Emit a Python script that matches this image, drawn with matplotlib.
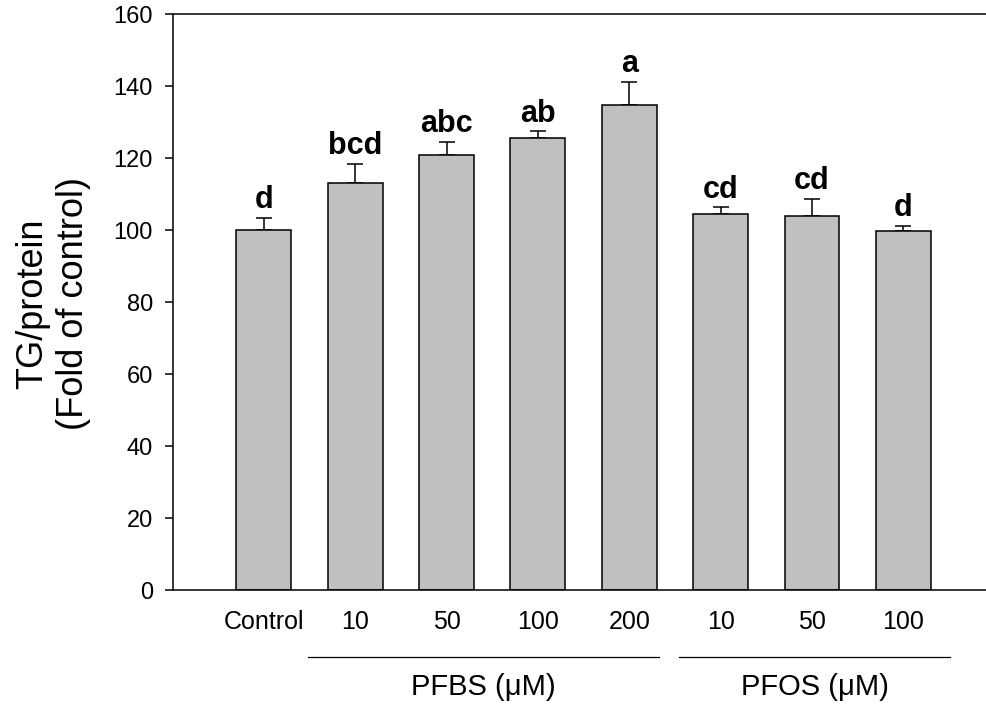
import numpy as np
from matplotlib import pyplot as plt
from matplotlib import transforms

plt.rcParams["font.family"] = ["Liberation Sans", "DejaVu Sans"]

labels = ["Control", "10", "50", "100", "200", "10", "50", "100"]
values = [100.0, 113.2, 121.1, 125.6, 134.9, 104.5, 103.9, 99.9]
errors = [3.6, 5.4, 3.6, 1.9, 6.3, 1.9, 4.8, 1.3]
letters = ["d", "bcd", "abc", "ab", "a", "cd", "cd", "d"]
groups = ["PFBS (\u03bcM)", "PFOS (\u03bcM)"]
group_spans = [(0.48, 4.33), (4.55, 7.51)]

fig = plt.figure(figsize=(9.86, 7.06), dpi=100)
ax = fig.add_axes([0.175, 0.1636, 0.8337, 0.8159])

x = np.arange(len(values))
ax.bar(x, values, width=0.6, color="#c0c0c0", edgecolor="black",
       linewidth=1.1, zorder=2)
ax.errorbar(x, values, yerr=[np.zeros(len(errors)), errors], fmt="none",
            ecolor="black", elinewidth=1.1, capsize=6, capthick=1.1,
            zorder=1)

for xi, v, e, t in zip(x, values, errors, letters):
    ax.annotate(t, (xi, v + e), xytext=(0, 2), textcoords="offset points",
                ha="center", va="bottom", fontsize=22, fontweight="bold")

ax.set_xlim(-1, 8)
ax.set_ylim(0, 160)
ax.set_yticks(range(0, 161, 20))
ax.set_xticks(x)
ax.set_xticklabels(labels, fontsize=18)
ax.tick_params(axis="x", length=0, pad=14)
ax.tick_params(axis="y", length=6, width=1.1, pad=8, labelsize=17,
               direction="out")
for s in ax.spines.values():
    s.set_linewidth(1.1)

# group lines and labels under the tick labels
trans = transforms.blended_transform_factory(ax.transData, ax.transAxes)
for name, (a, b) in zip(groups, group_spans):
    ax.plot([a, b], [-0.115, -0.115], color="black", linewidth=0.9,
            transform=trans, clip_on=False)
    ax.text((a + b) / 2, -0.168, name, transform=trans, ha="center",
            va="center", fontsize=21)

fig.text(0.054, 0.57, "TG/protein\n(Fold of control)", rotation=90,
         ha="center", va="center", fontsize=26, linespacing=1.2)

fig.savefig("out.png", dpi=100)
